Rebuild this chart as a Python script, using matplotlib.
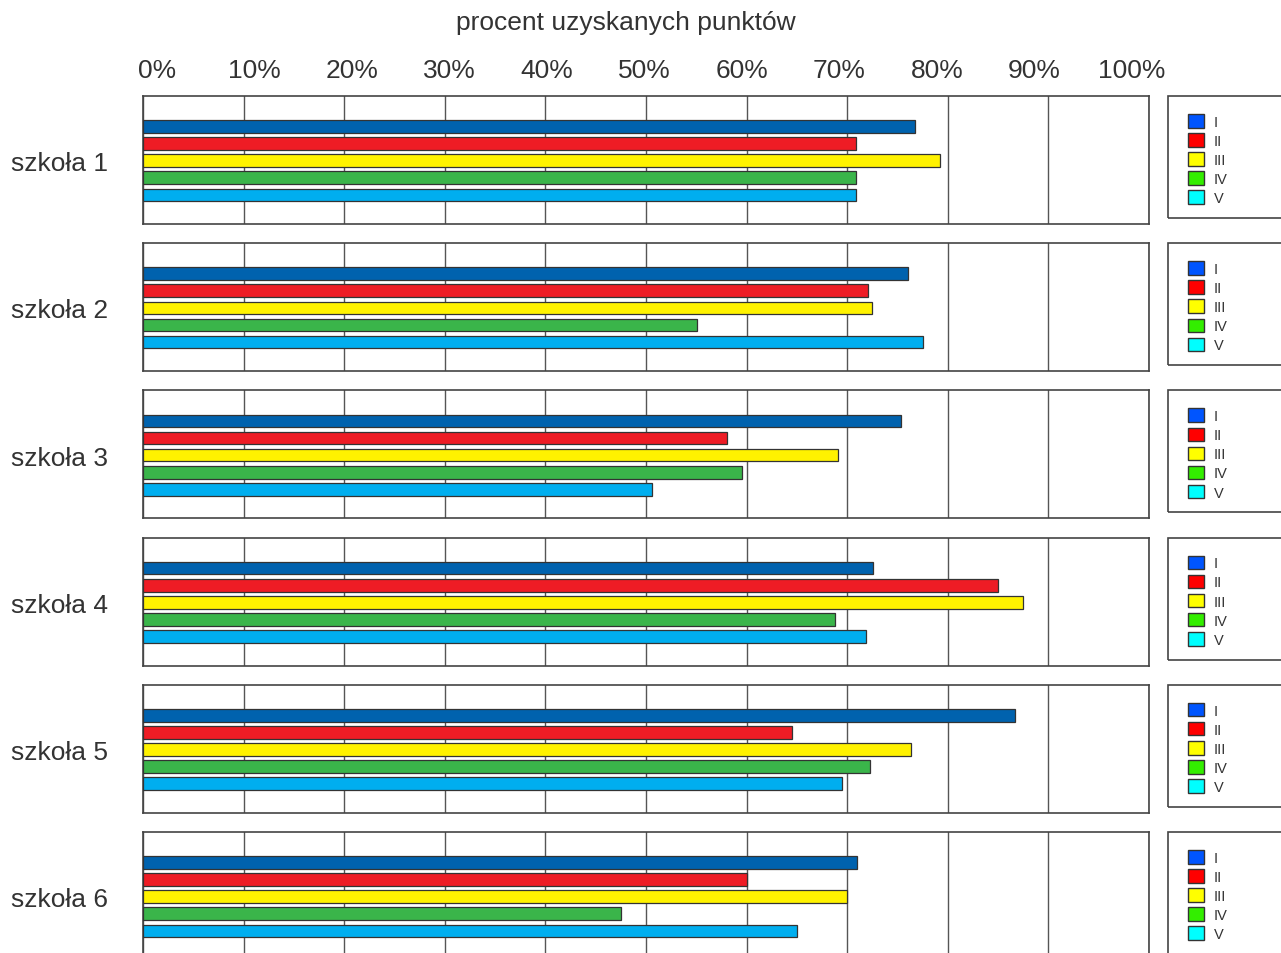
import matplotlib.pyplot as plt
from matplotlib.patches import Patch, Rectangle

plt.rcParams['font.family'] = ['Liberation Sans', 'DejaVu Sans']

# values (% of points), one list per class
schools = ['szkoła 1', 'szkoła 2', 'szkoła 3', 'szkoła 4', 'szkoła 5', 'szkoła 6']
classes = ['I', 'II', 'III', 'IV', 'V']
class_I = [76.7, 76.0, 75.3, 72.6, 86.7, 71.0]
class_II = [70.9, 72.1, 58.1, 85.0, 64.5, 60.0]
class_III = [79.2, 72.5, 69.1, 87.5, 76.3, 70.0]
class_IV = [70.9, 55.1, 59.5, 68.8, 72.3, 47.5]
class_V = [70.9, 77.5, 50.6, 71.9, 69.5, 65.0]
pct_ticks = list(range(0, 101, 10))

series = [class_I, class_II, class_III, class_IV, class_V]
bar_colors = ['#0062AE', '#EE1C25', '#FFF200', '#3AB54A', '#00AEEF']
legend_colors = ['#0055FF', '#FF0000', '#FFFF00', '#33EE00', '#00FFFF']

W, H = 1281, 954
fig = plt.figure(figsize=(W / 100, H / 100), dpi=100)

def fx(px):
    return px / W

def fy(py):
    return 1 - py / H

text_col = '#333333'
left, right = 143, 1149
panel_h = 128
pitch = 147.2

for i, school in enumerate(schools):
    top = 97 + i * pitch
    ax = fig.add_axes([fx(left), fy(top + panel_h), fx(right - left), panel_h / H])
    vals = [s[i] for s in series]
    ax.barh(range(5), vals, height=0.74, color=bar_colors,
            edgecolor='#333333', linewidth=0.9, zorder=3)
    ax.set_xlim(0, 100)
    ax.set_ylim(5.7, -1.78)
    ax.set_xticks(pct_ticks)
    ax.grid(axis='x', color='#555555', linewidth=1.0, zorder=0)
    ax.set_axisbelow(True)
    ax.set_yticks([2], [school])
    ax.tick_params(axis='x', length=0, labelbottom=False)
    ax.tick_params(axis='y', length=0, pad=25, labelsize=19, labelcolor=text_col)
    for sp in ax.spines.values():
        sp.set_color('#444444')
        sp.set_linewidth(1.2)

    # legend box per panel (runs past the right edge of the figure)
    fig.add_artist(Rectangle((fx(1168), fy(top + 122)), fx(140), 122 / H,
                             transform=fig.transFigure, fill=False,
                             edgecolor='#444444', linewidth=1.2, clip_on=False))
    handles = [Patch(facecolor=c, edgecolor='#333333', linewidth=1.0) for c in legend_colors]
    ax.legend(handles, classes, loc='upper left',
              bbox_to_anchor=(fx(1188), fy(top + 18)), bbox_transform=fig.transFigure,
              frameon=False, fontsize=10.5, handlelength=1.1, handleheight=1.05,
              handletextpad=0.65, labelspacing=0.3, borderpad=0, borderaxespad=0,
              labelcolor=text_col)

# percentage labels across the top
lab_ax = fig.add_axes([fx(157), fy(86), fx(1132 - 157), 0.0001])
lab_ax.set_xlim(0, 100)
lab_ax.set_xticks(pct_ticks, [f'{t}%' for t in pct_ticks])
lab_ax.xaxis.set_ticks_position('top')
lab_ax.tick_params(axis='x', length=0, pad=2, labelsize=19, labelcolor=text_col)
lab_ax.set_yticks([])
for sp in lab_ax.spines.values():
    sp.set_visible(False)
lab_ax.patch.set_visible(False)

fig.text(fx(626), fy(23), 'procent uzyskanych punktów', ha='center', va='center',
         fontsize=19, color=text_col)

fig.savefig('out.png', dpi=100)
